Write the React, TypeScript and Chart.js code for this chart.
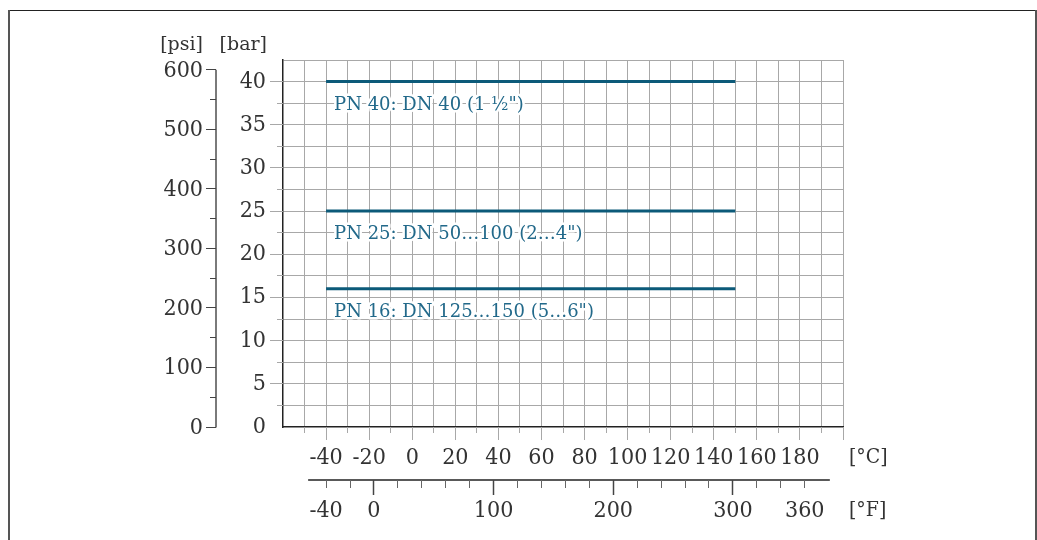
import React, { useEffect, useRef } from 'react';
import { Chart, registerables } from 'chart.js';

Chart.register(...registerables);

const FONT_REG = "'DejaVu Serif', serif";
const TEXT = '#333333';
const GRID = '#a8a8a8';
const LINE = '#0c5a79';
const LABEL = '#22698a';

// ---- data ----
const SERIES_LABELS = ['PN 40: DN 40 (1 ½")', 'PN 25: DN 50…100 (2…4")', 'PN 16: DN 125…150 (5…6")'];
const SERIES_BAR = [40, 25, 16];
const SERIES_T_START = [-40, -40, -40];
const SERIES_T_END = [150, 150, 150];

const C_MIN = -60;
const C_MAX = 200;
const C_GRID = [-60, -50, -40, -30, -20, -10, 0, 10, 20, 30, 40, 50, 60, 70, 80, 90, 100, 110, 120, 130, 140, 150, 160, 170, 180, 190, 200];
const C_LABELS = [-40, -20, 0, 20, 40, 60, 80, 100, 120, 140, 160, 180];

const BAR_MIN = 0;
const BAR_MAX = 42.5;
const BAR_GRID = [0, 2.5, 5, 7.5, 10, 12.5, 15, 17.5, 20, 22.5, 25, 27.5, 30, 32.5, 35, 37.5, 40, 42.5];
const BAR_LABELS = [0, 5, 10, 15, 20, 25, 30, 35, 40];

const PSI_TICKS = [0, 50, 100, 150, 200, 250, 300, 350, 400, 450, 500, 550, 600];
const PSI_LABELS = [0, 100, 200, 300, 400, 500, 600];
const PSI_PER_BAR = 14.5038;

const F_TICKS = [-40, -20, 0, 20, 40, 60, 80, 100, 120, 140, 160, 180, 200, 220, 240, 260, 280, 300, 320, 340, 360];
const F_MAJOR = [0, 100, 200, 300];
const F_LABELS = [-40, 0, 100, 200, 300, 360];
const F_LINE = [-55, 381];

const fToC = (f: number) => ((f - 32) * 5) / 9;
const al = (p: number) => Math.round(p - 0.5) + 0.5;

function hasCondensed(): boolean {
  const c = document.createElement('canvas').getContext('2d');
  if (!c) return false;
  c.font = '40px monospace';
  const a = c.measureText('0123456789 abcdef').width;
  c.font = "40px 'DejaVu Serif Condensed', monospace";
  const b = c.measureText('0123456789 abcdef').width;
  return Math.abs(a - b) > 0.5;
}

export default function App() {
  const ref = useRef<HTMLCanvasElement | null>(null);

  useEffect(() => {
    if (!ref.current) return;
    const cond = hasCondensed();
    const NUM_FONT = cond ? "'DejaVu Serif Condensed', 'DejaVu Serif', serif" : FONT_REG;
    const NUM_SIZE = cond ? 23 : 21;

    const decor = {
      id: 'decor',
      beforeDraw(chart: any) {
        const ctx = chart.ctx;
        ctx.save();
        ctx.fillStyle = '#ffffff';
        ctx.fillRect(0, 0, chart.width, chart.height);
        ctx.fillStyle = '#222222';
        ctx.fillRect(8, 10, 1028, 1);
        ctx.fillStyle = '#555555';
        ctx.fillRect(8, 10, 2, chart.height - 10);
        ctx.fillRect(1035, 10, 2, chart.height - 10);
        ctx.restore();
      },
      afterDraw(chart: any) {
        const ctx = chart.ctx;
        const xs = chart.scales.x;
        const ys = chart.scales.y;
        const area = chart.chartArea;
        ctx.save();

        // grid tick stubs
        ctx.strokeStyle = GRID;
        ctx.lineWidth = 1;
        ctx.beginPath();
        C_GRID.forEach((v) => {
          if (v === C_MIN) return;
          const px = al(xs.getPixelForValue(v));
          const len = v % 20 === 0 ? 13 : 6;
          ctx.moveTo(px, area.bottom);
          ctx.lineTo(px, area.bottom + len);
        });
        BAR_GRID.forEach((v) => {
          if (v === BAR_MIN || v === BAR_MAX) return;
          const py = al(ys.getPixelForValue(v));
          const len = v % 5 === 0 ? 13 : 6;
          ctx.moveTo(area.left, py);
          ctx.lineTo(area.left - len, py);
        });
        ctx.stroke();

        // psi axis
        const psiX = 216;
        const yTop = ys.getPixelForValue(600 / PSI_PER_BAR);
        const y0 = ys.getPixelForValue(0);
        ctx.fillStyle = '#7a7a7a';
        ctx.fillRect(psiX - 1, yTop, 2, y0 - yTop + 0.5);
        ctx.strokeStyle = '#444444';
        ctx.lineWidth = 1;
        ctx.beginPath();
        PSI_TICKS.forEach((v) => {
          const py = al(ys.getPixelForValue(v / PSI_PER_BAR));
          const len = v % 100 === 0 ? 10 : 6;
          ctx.moveTo(psiX, py);
          ctx.lineTo(psiX - len, py);
        });
        ctx.stroke();
        ctx.font = `${NUM_SIZE}px ${NUM_FONT}`;
        ctx.fillStyle = TEXT;
        ctx.textAlign = 'right';
        ctx.textBaseline = 'middle';
        PSI_LABELS.forEach((v) => {
          ctx.fillText(String(v), 203, ys.getPixelForValue(v / PSI_PER_BAR) + 1);
        });

        // headers
        ctx.font = `19px ${FONT_REG}`;
        ctx.fillText('[psi]', 203, 45);
        ctx.fillText('[bar]', 267, 45);

        // Fahrenheit axis
        const fy = 480;
        ctx.strokeStyle = '#222222';
        ctx.lineWidth = 1.5;
        ctx.beginPath();
        ctx.moveTo(xs.getPixelForValue(fToC(F_LINE[0])), fy);
        ctx.lineTo(xs.getPixelForValue(fToC(F_LINE[1])), fy);
        ctx.stroke();
        F_TICKS.forEach((v) => {
          const major = F_MAJOR.includes(v);
          const px = al(xs.getPixelForValue(fToC(v)));
          ctx.strokeStyle = major ? '#444444' : '#666666';
          ctx.lineWidth = major ? 1.5 : 1;
          ctx.beginPath();
          ctx.moveTo(px, fy);
          ctx.lineTo(px, fy + (major ? 15 : 8));
          ctx.stroke();
        });
        ctx.font = `${NUM_SIZE}px ${NUM_FONT}`;
        ctx.fillStyle = TEXT;
        ctx.textAlign = 'center';
        F_LABELS.forEach((v) => {
          ctx.fillText(String(v), xs.getPixelForValue(fToC(v)), 511);
        });

        // units
        ctx.textAlign = 'left';
        ctx.font = cond ? `21px ${NUM_FONT}` : `19px ${FONT_REG}`;
        ctx.fillText('[°C]', 849, 458);
        ctx.fillText('[°F]', 849, 511);

        // series labels
        ctx.font = `18px ${FONT_REG}`;
        ctx.textAlign = 'left';
        ctx.textBaseline = 'alphabetic';
        ctx.lineJoin = 'round';
        SERIES_LABELS.forEach((s, i) => {
          const px = xs.getPixelForValue(SERIES_T_START[i]) + 8;
          const py = ys.getPixelForValue(SERIES_BAR[i]) + 28;
          ctx.strokeStyle = '#ffffff';
          ctx.lineWidth = 5;
          ctx.strokeText(s, px, py);
          ctx.fillStyle = LABEL;
          ctx.fillText(s, px, py);
        });

        ctx.restore();
      },
    };

    const datasets = SERIES_LABELS.map((name, i) => ({
      label: name,
      data: [
        { x: SERIES_T_START[i], y: SERIES_BAR[i] },
        { x: SERIES_T_END[i], y: SERIES_BAR[i] },
      ],
      borderColor: LINE,
      borderWidth: 3,
      pointRadius: 0,
      fill: false,
      borderCapStyle: 'butt',
    }));

    const chart = new Chart(ref.current, {
      type: 'line',
      data: { datasets } as any,
      plugins: [decor],
      options: {
        animation: false,
        responsive: false,
        devicePixelRatio: 1,
        layout: { padding: { left: 238, right: 194, top: 60, bottom: 53 } },
        plugins: { legend: { display: false }, tooltip: { enabled: false } },
        events: [],
        scales: {
          x: {
            type: 'linear',
            min: C_MIN,
            max: C_MAX,
            afterBuildTicks: (s: any) => {
              s.ticks = C_GRID.map((value) => ({ value }));
            },
            afterFit: (s: any) => {
              s.height = 60;
            },
            grid: {
              drawTicks: false,
              lineWidth: 1,
              color: (c: any) => (c.tick && c.tick.value === C_MIN ? 'rgba(0,0,0,0)' : GRID),
            },
            border: { display: true, color: '#222222', width: 1.5 },
            ticks: {
              autoSkip: false,
              maxRotation: 0,
              minRotation: 0,
              padding: cond ? 17 : 18,
              color: TEXT,
              font: { family: NUM_FONT, size: NUM_SIZE },
              callback: (v: any) => (C_LABELS.includes(Number(v)) ? String(v) : ''),
            },
          },
          y: {
            type: 'linear',
            min: BAR_MIN,
            max: BAR_MAX,
            afterBuildTicks: (s: any) => {
              s.ticks = BAR_GRID.map((value) => ({ value }));
            },
            afterFit: (s: any) => {
              s.width = 45;
            },
            grid: {
              drawTicks: false,
              lineWidth: 1,
              color: (c: any) => (c.tick && c.tick.value === BAR_MIN ? 'rgba(0,0,0,0)' : GRID),
            },
            border: { display: true, color: '#222222', width: 1.5 },
            ticks: {
              autoSkip: false,
              padding: 17,
              color: TEXT,
              font: { family: NUM_FONT, size: NUM_SIZE },
              callback: (v: any) => (BAR_LABELS.includes(Number(v)) ? String(v) : ''),
            },
          },
        },
      } as any,
    });
    return () => chart.destroy();
  }, []);

  return (
    <div style={{ position: 'fixed', left: 0, top: 0, width: 1037, height: 540, background: '#fff' }}>
      <canvas ref={ref} width={1037} height={540} style={{ display: 'block', width: 1037, height: 540 }} />
    </div>
  );
}
